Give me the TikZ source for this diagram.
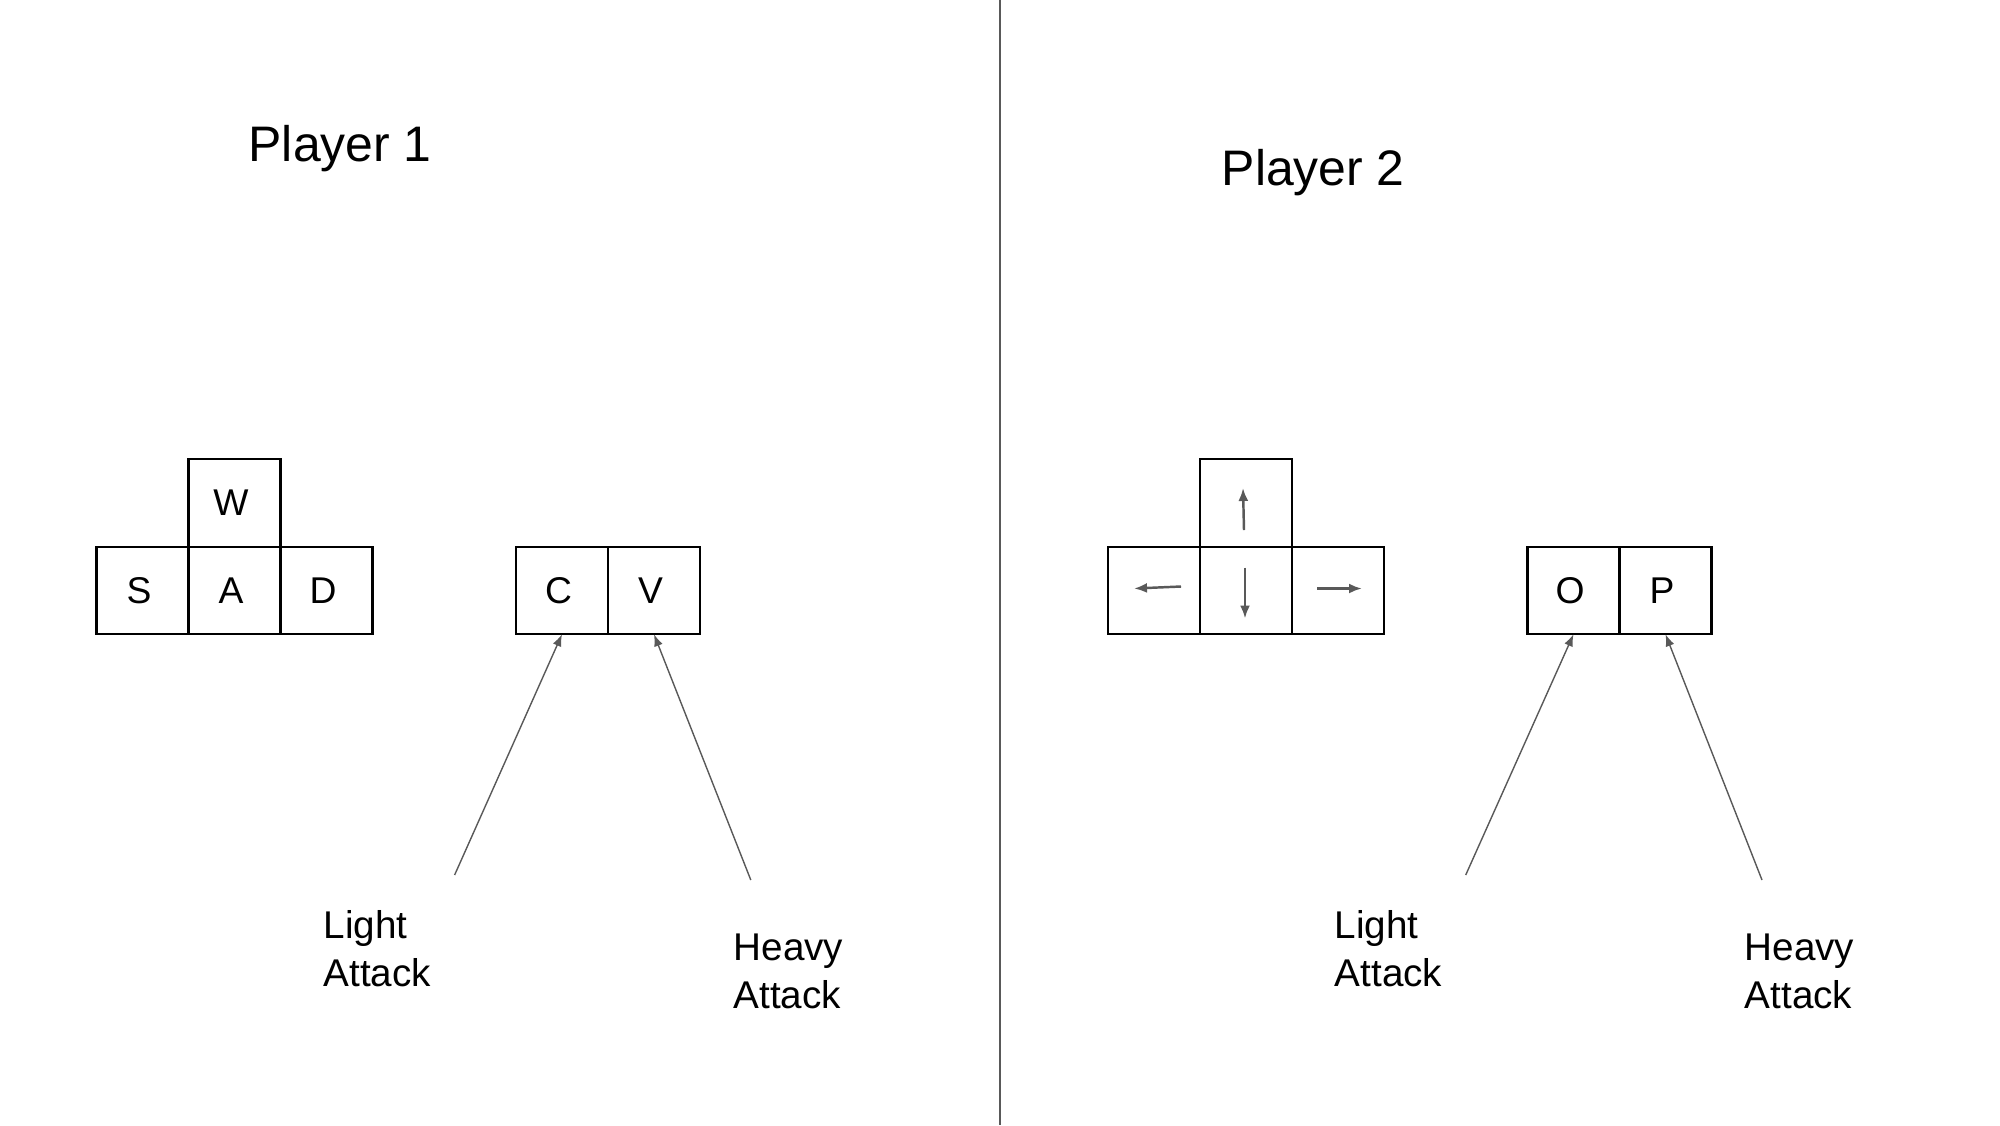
\documentclass[tikz,border=0pt]{standalone}
\usepackage{fontspec}
\setmainfont{Liberation Sans}
\usetikzlibrary{positioning,arrows.meta}
\definecolor{linegrey}{HTML}{595959}
\tikzset{
    key/.style={draw, line width=0.6pt, outer sep=0pt, inner sep=0pt,
        minimum width=0.92cm, minimum height=0.875cm,
        execute at begin node={\kern-0.7mm},
        font=\fontsize{10.6}{12}\selectfont},
    pointer/.style={draw=linegrey, line width=0.4pt,
        -{Latex[length=0.12cm, width=0.09cm]}},
    keyarrow/.style={draw=linegrey, line width=0.7pt,
        -{Latex[length=0.13cm, width=0.1cm]}},
    caption/.style={anchor=base west, align=left, inner sep=0pt,
        font=\fontsize{11}{13.4}\selectfont},
    title/.style={anchor=base west, inner sep=0pt,
        font=\fontsize{14.2}{16}\selectfont}
}
\begin{document}
\begin{tikzpicture}[x=1cm, y=-1cm]
        \useasboundingbox (0,0) rectangle (20,11.25);
        \draw[linegrey, line width=0.6pt] (10,0) -- (10,11.25);
        \node[title] (player1) at (2.48,1.61) {Player 1};
        \node[title] (player2) at (12.21,1.85) {Player 2};
        \node[key] (a1) at (2.345,5.905) {A};
        \node[key, above=0pt of a1] (w1) {W};
        \node[key, left=0pt of a1] (s1) {S};
        \node[key, right=0pt of a1] (d1) {D};
        \node[key] (c1) at (5.62,5.905) {C};
        \node[key, right=0pt of c1] (v1) {V};
        \node[key] (down2) at (12.46,5.905) {};
        \node[key, above=0pt of down2] (up2) {};
        \node[key, left=0pt of down2] (left2) {};
        \node[key, right=0pt of down2] (right2) {};
        \node[key] (o2) at (15.735,5.905) {O};
        \node[key, right=0pt of o2] (p2) {P};
        \draw[keyarrow] ([shift={(-0.02,0.27)}]up2.center) -- ++(-0.01,-0.42);
        \draw[keyarrow] ([shift={(-0.01,-0.23)}]down2.center) -- ++(0,0.51);
        \draw[keyarrow] ([shift={(0.27,-0.04)}]left2.center) -- ++(-0.47,0.02);
        \draw[keyarrow] ([shift={(-0.21,-0.02)}]right2.center) -- ++(0.45,0);
        \node[caption] (light1) at (3.23,9.86) {Light\\Attack};
        \node[caption] (heavy1) at (7.33,10.08) {Heavy\\Attack};
        \node[caption] (light2) at (13.34,9.86) {Light\\Attack};
        \node[caption] (heavy2) at (17.44,10.08) {Heavy\\Attack};
        \coordinate (lt1) at (4.546,8.75);
        \coordinate (ht1) at (7.508,8.80);
        \coordinate (lt2) at (14.657,8.75);
        \coordinate (ht2) at (17.62,8.80);
        \draw[pointer] (lt1) -- (c1.south);
        \draw[pointer] (ht1) -- (v1.south);
        \draw[pointer] (lt2) -- (o2.south);
        \draw[pointer] (ht2) -- (p2.south);
\end{tikzpicture}
\end{document}
